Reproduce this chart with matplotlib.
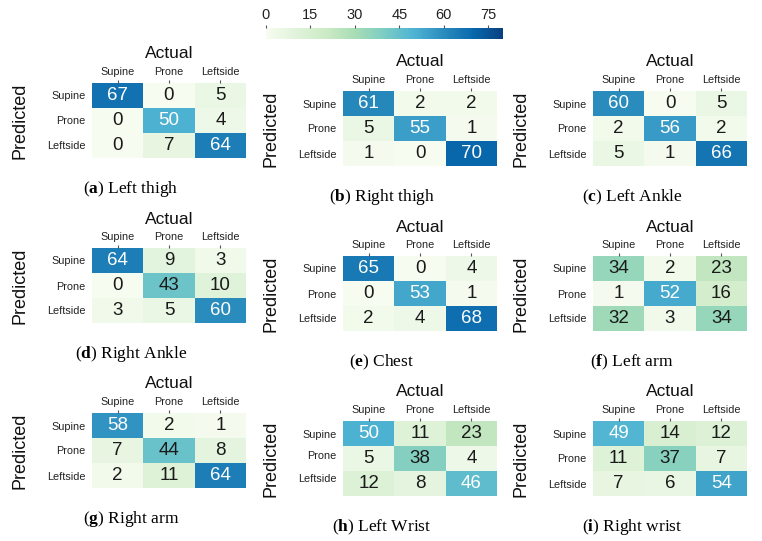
import numpy as np
import matplotlib
matplotlib.use("Agg")
import matplotlib.pyplot as plt

plt.rcParams["font.family"] = ["Liberation Sans", "DejaVu Sans"]
plt.rcParams["mathtext.fontset"] = "custom"
plt.rcParams["mathtext.rm"] = "Liberation Serif"
plt.rcParams["mathtext.bf"] = "Liberation Serif:bold"

# class names
classes = ["Supine", "Prone", "Leftside"]

# confusion matrices (rows = predicted, cols = actual)
left_thigh = [[67, 0, 5], [0, 50, 4], [0, 7, 64]]
right_thigh = [[61, 2, 2], [5, 55, 1], [1, 0, 70]]
left_ankle = [[60, 0, 5], [2, 56, 2], [5, 1, 66]]
right_ankle = [[64, 9, 3], [0, 43, 10], [3, 5, 60]]
chest = [[65, 0, 4], [0, 53, 1], [2, 4, 68]]
left_arm = [[34, 2, 23], [1, 52, 16], [32, 3, 34]]
right_arm = [[58, 2, 1], [7, 44, 8], [2, 11, 64]]
left_wrist = [[50, 11, 23], [5, 38, 4], [12, 8, 46]]
right_wrist = [[49, 14, 12], [11, 37, 7], [7, 6, 54]]

panels = [
    ("a", "Left thigh", left_thigh),
    ("b", "Right thigh", right_thigh),
    ("c", "Left Ankle", left_ankle),
    ("d", "Right Ankle", right_ankle),
    ("e", "Chest", chest),
    ("f", "Left arm", left_arm),
    ("g", "Right arm", right_arm),
    ("h", "Left Wrist", left_wrist),
    ("i", "Right wrist", right_wrist),
]

# heatmap boxes in pixels: left, top
boxes = [
    (92, 83), (343, 91), (593, 91),
    (92, 248), (343, 256), (593, 256),
    (92, 413), (343, 421), (593, 421),
]

W, H = 762, 541
fig = plt.figure(figsize=(W / 100, H / 100), dpi=100)
cmap = plt.get_cmap("GnBu")
vmin, vmax = 0, 80
bw, bh = 154, 75


def px_axes(left, top, w, h):
    return fig.add_axes([left / W, 1 - (top + h) / H, w / W, h / H])


for (letter, name, cm), (left, top) in zip(panels, boxes):
    ax = px_axes(left, top, bw, bh)
    m = np.array(cm)
    im = ax.imshow(m, cmap=cmap, vmin=vmin, vmax=vmax, aspect="auto",
                   extent=(0, 3, 3, 0), interpolation="nearest")
    for r in range(3):
        for c in range(3):
            v = m[r, c]
            col = "white" if v > 45 else "#1a1a1a"
            ax.text(c + 0.5, r + 0.5, str(v), ha="center", va="center",
                    fontsize=13.5, color=col)
    ax.set_xlim(0, 3)
    ax.set_ylim(3, 0)
    ax.xaxis.tick_top()
    ax.set_xticks([0.5, 1.5, 2.5])
    ax.set_xticklabels(classes, fontsize=7.8, color="#222222")
    ax.set_yticks([0.5, 1.5, 2.5])
    if letter == "h":
        # row labels sit a little high in this panel
        ax.set_yticks([0.5, 1.35, 2.3])
    ax.set_yticklabels(classes, fontsize=7.8, color="#222222")
    ax.tick_params(axis="x", length=2.5, width=0.8, color="#555555", pad=1.5)
    ax.tick_params(axis="y", length=0, pad=4.5)
    for s in ax.spines.values():
        s.set_visible(False)
    ax.text(0.5, 1 + 29 / bh, "Actual", transform=ax.transAxes,
            ha="center", va="center", fontsize=12.5, color="#111111")
    ax.text(-72 / bw, 0.5, "Predicted", transform=ax.transAxes, rotation=90,
            ha="center", va="center", fontsize=13, color="#111111")
    ax.text(39 / bw, -31 / bh, r"($\mathbf{%s}$) %s" % (letter, name),
            transform=ax.transAxes, ha="center", va="center",
            fontsize=12.5, family="Liberation Serif", color="black")

# colorbar
cax = px_axes(266, 28, 237, 11)
cb = fig.colorbar(im, cax=cax, orientation="horizontal")
cb.outline.set_visible(False)
cb.set_ticks([0, 15, 30, 45, 60, 75])
cax.xaxis.set_ticks_position("top")
cax.xaxis.set_label_position("top")
cax.tick_params(labelsize=10.5, length=2.5, width=0.8, color="#555555",
                pad=2, labelcolor="#222222")

fig.savefig("out.png", dpi=100)
